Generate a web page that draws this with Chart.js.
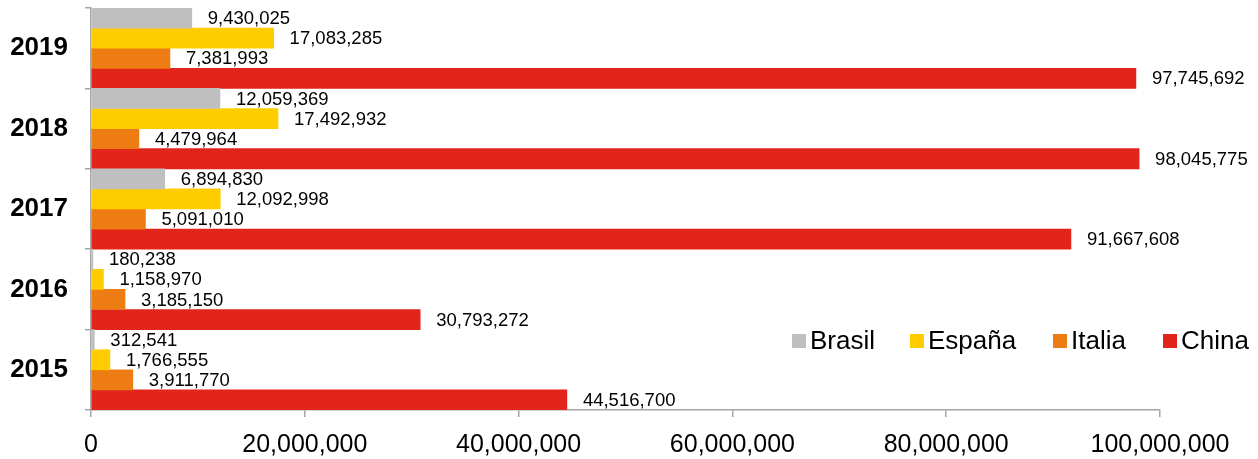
<!DOCTYPE html>
<html>
<head>
<meta charset="utf-8">
<script src="https://cdn.jsdelivr.net/npm/chart.js@4/dist/chart.umd.min.js"></script>
<style>
  html, body { margin: 0; padding: 0; background: #fff; }
  #wrap { width: 1258px; height: 459px; }
</style>
</head>
<body>
<div id="wrap"><canvas id="chart" width="1258" height="459"></canvas></div>
<script>
const years = ['2019', '2018', '2017', '2016', '2015'];
const brasil = [9430025, 12059369, 6894830, 180238, 312541];
const espana = [17083285, 17492932, 12092998, 1158970, 1766555];
const italia = [7381993, 4479964, 5091010, 3185150, 3911770];
const china = [97745692, 98045775, 91667608, 30793272, 44516700];
const xTicks = [0, 20000000, 40000000, 60000000, 80000000, 100000000];

const colors = ['#BFBFBF', '#FFCC00', '#ED7D13', '#E1251B'];
const axisColor = '#A6A6A6';

function fmt(v) {
  return Number(v).toLocaleString('en-US');
}

// value labels right of each bar
const barLabels = {
  id: 'barLabels',
  afterDatasetsDraw(chart) {
    const ctx = chart.ctx;
    ctx.save();
    ctx.font = '18.5px "Liberation Sans", Arial, sans-serif';
    ctx.fillStyle = '#000';
    ctx.textBaseline = 'middle';
    ctx.textAlign = 'left';
    chart.data.datasets.forEach((ds, i) => {
      chart.getDatasetMeta(i).data.forEach((bar, j) => {
        ctx.fillText(fmt(ds.data[j]), bar.x + 16, bar.y + 1);
      });
    });
    ctx.restore();
  }
};

// legend drawn inside the plot, bottom right
const cornerLegend = {
  id: 'cornerLegend',
  afterDraw(chart) {
    const ctx = chart.ctx;
    const xs = [792, 910, 1053, 1163];
    const y = 341;
    ctx.save();
    ctx.font = '26px "Liberation Sans", Arial, sans-serif';
    ctx.textBaseline = 'middle';
    ctx.textAlign = 'left';
    chart.data.datasets.forEach((ds, i) => {
      ctx.fillStyle = ds.backgroundColor;
      ctx.fillRect(xs[i], y - 7, 14, 14);
      ctx.fillStyle = '#000';
      ctx.fillText(ds.label, xs[i] + 18, y + 1);
    });
    ctx.restore();
  }
};

const ctx = document.getElementById('chart').getContext('2d');
new Chart(ctx, {
  type: 'bar',
  data: {
    labels: years,
    datasets: [
      { label: 'Brasil', data: brasil, backgroundColor: colors[0] },
      { label: 'España', data: espana, backgroundColor: colors[1] },
      { label: 'Italia', data: italia, backgroundColor: colors[2] },
      { label: 'China', data: china, backgroundColor: colors[3] }
    ]
  },
  options: {
    indexAxis: 'y',
    responsive: false,
    animation: false,
    layout: { padding: { left: 0, top: 8, right: 98, bottom: 0 } },
    datasets: {
      bar: { categoryPercentage: 1.0, barPercentage: 1.0 }
    },
    plugins: {
      legend: { display: false },
      tooltip: { enabled: false }
    },
    scales: {
      x: {
        min: 0,
        max: 100000000,
        afterBuildTicks(scale) {
          scale.ticks = xTicks.map(v => ({ value: v }));
        },
        afterFit(scale) { scale.height = 49; },
        border: { display: true, color: axisColor, width: 1.5 },
        grid: { drawOnChartArea: false, drawTicks: true, tickLength: 7, color: axisColor, lineWidth: 1.5 },
        ticks: {
          color: '#000',
          padding: 13,
          maxRotation: 0,
          font: { family: '"Liberation Sans", Arial, sans-serif', size: 25 },
          callback: v => fmt(v)
        }
      },
      y: {
        afterFit(scale) {
          scale.width = 91;
          scale.paddingTop = 0;
          scale.paddingBottom = 0;
        },
        border: { display: true, color: axisColor, width: 1.5 },
        grid: { drawOnChartArea: false, drawTicks: true, tickLength: 6, color: axisColor, lineWidth: 1.5, offset: true },
        ticks: {
          color: '#000',
          padding: 17,
          font: { family: '"Liberation Sans", Arial, sans-serif', size: 26, weight: 'bold' }
        }
      }
    }
  },
  plugins: [barLabels, cornerLegend]
});
</script>
</body>
</html>
